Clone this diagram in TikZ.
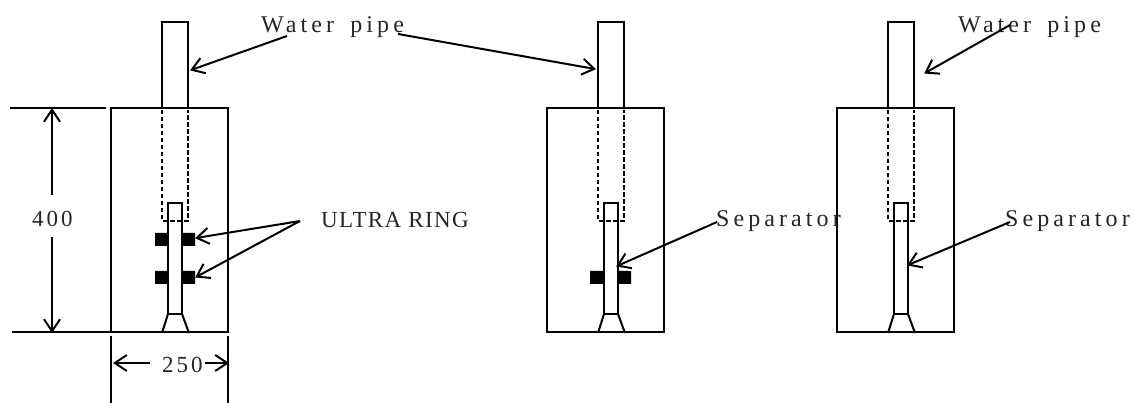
\documentclass[tikz,border=0pt]{standalone}
\usepackage{fontspec}
\setmainfont{Liberation Serif}
\newfontfamily\labelfont[LetterSpace=17,WordSpace=1.6]{Liberation Serif}
\newfontfamily\capsfont[LetterSpace=6]{Liberation Serif}
\newfontfamily\numfont[LetterSpace=13]{Liberation Serif}
\usetikzlibrary{arrows.meta}
\tikzset{
  ln/.style={line width=2.2pt,black},
  thinln/.style={line width=2pt,black},
  dsh/.style={line width=2pt,black,dash pattern=on 4.5pt off 2.5pt},
  lead/.style={line width=2pt,black,-{Straight Barb[length=12pt,width=16pt,line width=2pt]},shorten >=-1pt},
  lbl/.style={inner sep=0pt,anchor=base west,font=\fontsize{24}{24}\selectfont\labelfont,text=black!85},
  ulbl/.style={lbl,font=\fontsize{23}{23}\selectfont\capsfont},
  nlbl/.style={lbl,font=\fontsize{23}{23}\selectfont\numfont},
  ring/.style={fill=black,draw=none},
}
\newcommand{\unitdraw}[1]{%
  \begin{scope}[xshift=#1pt]
    \draw[ln] (111,108) rectangle (228,332);
    \draw[ln] (162,108) -- (162,22) -- (188,22) -- (188,108);
    \draw[dsh] (162,110) -- (162,221) -- (188,221) -- (188,110);
    \draw[thinln] (168,314) -- (168,203) -- (182,203) -- (182,314) -- cycle;
    \draw[thinln] (168,314) -- (162,333);
    \draw[thinln] (182,314) -- (189,333);
  \end{scope}}
\begin{document}
\begin{tikzpicture}[x=1pt,y=-1pt]
\useasboundingbox[fill=white] (0,0) rectangle (1135,403);
% rings
\fill[ring] (155,233) rectangle (168,246) (182,233) rectangle (195,246);
\fill[ring] (155,271) rectangle (168,284) (182,271) rectangle (195,284);
\fill[ring] (590,271) rectangle (603.5,284) (617,271) rectangle (631,284);
\unitdraw{0}
\unitdraw{436}
\unitdraw{726}
% labels
\node[lbl] (wp1) at (261,33) {Water pipe};
\node[lbl] (wp2) at (958,33) {Water pipe};
\node[ulbl] (ur) at (321,228) {ULTRA RING};
\node[lbl] (sep1) at (716,227) {Separator};
\node[lbl] (sep2) at (1005,227) {Separator};
\node[nlbl] (h) at (32,227) {400};
\node[nlbl] (w) at (162,372) {250};
% leader anchors
\coordinate (a1s) at (287,36);
\coordinate (a1e) at (191,70);
\coordinate (a2s) at (398,34);
\coordinate (a2e) at (595,69);
\coordinate (a3s) at (1010,25);
\coordinate (a3e) at (925,73);
\coordinate (u0) at (300,221);
\coordinate (u1) at (196,238);
\coordinate (u2) at (196,277);
\coordinate (s1s) at (717,222);
\coordinate (s1e) at (617,266);
\coordinate (s2s) at (1010,222);
\coordinate (s2e) at (908,265);
\draw[lead] (a1s) -- (a1e);
\draw[lead] (a2s) -- (a2e);
\draw[lead] (a3s) -- (a3e);
\draw[lead] (u0) -- (u1);
\draw[lead] (u0) -- (u2);
\draw[lead] (s1s) -- (s1e);
\draw[lead] (s2s) -- (s2e);
% dimensions
\coordinate (d1) at (52,195);
\coordinate (d2) at (52,109);
\coordinate (d3) at (52,237);
\coordinate (d4) at (52,332);
\coordinate (d5) at (150,363);
\coordinate (d6) at (114,363);
\coordinate (d7) at (205,363);
\coordinate (d8) at (228,363);
\draw[lead] (d1) -- (d2);
\draw[lead] (d3) -- (d4);
\draw[lead] (d5) -- (d6);
\draw[lead] (d7) -- (d8);
\draw[ln] (10,108) -- (106,108);
\draw[ln] (12,332) -- (111,332);
\draw[ln] (111,336) -- (111,403);
\draw[ln] (228,336) -- (228,403);
\end{tikzpicture}
\end{document}
